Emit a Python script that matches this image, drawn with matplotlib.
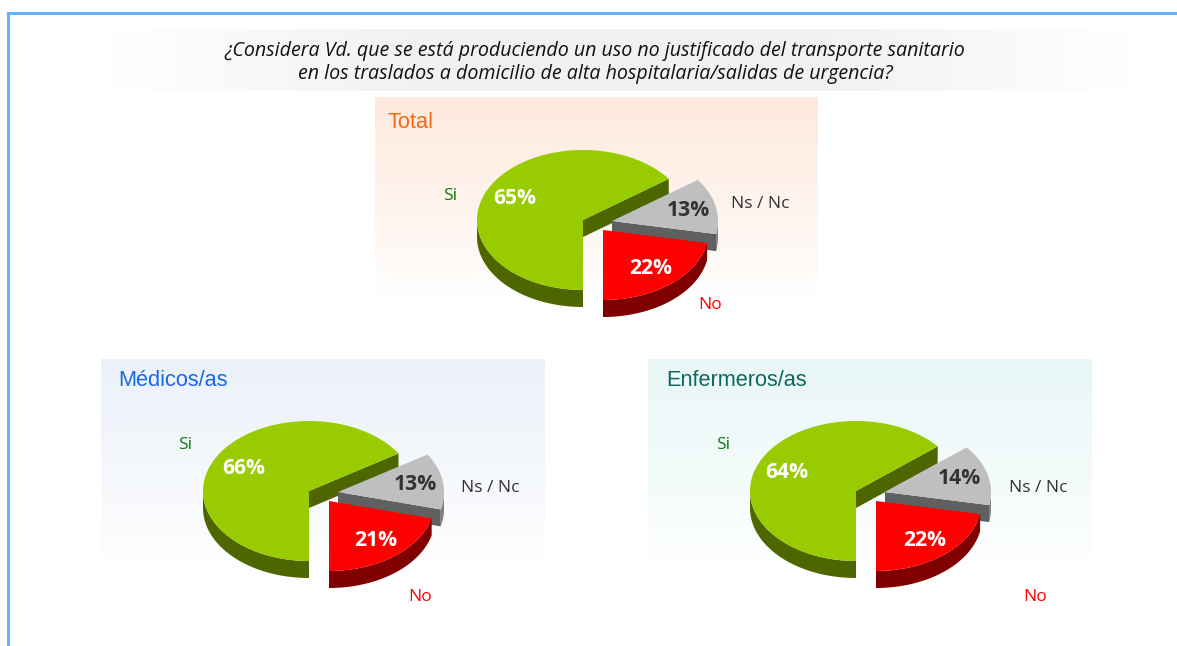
import numpy as np
import matplotlib
matplotlib.use('Agg')
import matplotlib.pyplot as plt
from matplotlib.patches import Polygon

# ---------------------------
# Data
# ---------------------------
slice_labels = ['Si', 'No', 'Ns / Nc']
total_values = [65, 22, 13]
medicos_values = [66, 21, 13]
enfermeros_values = [64, 22, 14]

panel_titles = ['Total', 'Médicos/as', 'Enfermeros/as']
question_lines = [
    '¿Considera Vd. que se está produciendo un uso no justificado del transporte sanitario',
    'en los traslados a domicilio de alta hospitalaria/salidas de urgencia?',
]

# ---------------------------
# Styles and layout (pixels)
# ---------------------------
RX, RY, DEPTH = 106, 70, 17
TOP_COLORS = ['#99CC00', '#FF0000', '#BFBFBF']
SIDE_COLORS = ['#4D6600', '#800000', '#808080']
CUT_COLORS = ['#4D6600', '#800000', '#606060']
RED_OFFSET = (20, 10)
GREY_OFFSET = (29, 1)

LABEL_FONT = ['Open Sans', 'DejaVu Sans']
TITLE_FONT = ['Liberation Sans', 'DejaVu Sans']


def ellipse_xy(cx, cy, angle):
    a = np.radians(angle)
    return cx + RX * np.cos(a), cy - RY * np.sin(a)


def draw_slice(ax, cx, cy, start, end, top, side, cut, cut_start=False, z=3):
    angles = np.linspace(start, end, 200)
    xs, ys = ellipse_xy(cx, cy, angles)

    # outer rim, only where it faces the viewer
    lower = np.sin(np.radians(angles)) <= 0.001
    if lower.any():
        rim = list(zip(xs[lower], ys[lower])) + list(zip(xs[lower][::-1], ys[lower][::-1] + DEPTH))
        ax.add_patch(Polygon(rim, closed=True, fc=side, ec='none', zorder=z))

    # cut face on the start edge of the slice
    if cut_start:
        ex, ey = ellipse_xy(cx, cy, start)
        face = [(cx, cy), (ex, ey), (ex, ey + DEPTH), (cx, cy + DEPTH)]
        ax.add_patch(Polygon(face, closed=True, fc=cut, ec='none', zorder=z + 0.1))

    pts = [(cx, cy)] + list(zip(xs, ys))
    ax.add_patch(Polygon(pts, closed=True, fc=top, ec='none', zorder=z + 0.2))


def draw_pie(ax, cx, cy, values):
    si, no, ns = values
    si_start = 270 - si * 3.6
    no_end = 270 + no * 3.6

    draw_slice(ax, cx, cy, si_start, 270, TOP_COLORS[0], SIDE_COLORS[0], CUT_COLORS[0], cut_start=True, z=3)
    draw_slice(ax, cx + GREY_OFFSET[0], cy + GREY_OFFSET[1], no_end - 360, no_end - 360 + ns * 3.6,
               TOP_COLORS[2], SIDE_COLORS[2], CUT_COLORS[2], cut_start=True, z=4)
    draw_slice(ax, cx + RED_OFFSET[0], cy + RED_OFFSET[1], 270, no_end,
               TOP_COLORS[1], SIDE_COLORS[1], CUT_COLORS[1], z=5)


def gradient(ax, x0, x1, y0, y1, color, horizontal=False):
    # fades a colour out to white
    rgb = np.array(matplotlib.colors.to_rgb(color))
    if horizontal:
        t = np.linspace(0, 1, 256)
        t = np.clip(np.minimum(t, t[::-1]) * 3.2, 0, 1)
        img = np.ones((1, 256, 3)) - (1 - rgb) * t[None, :, None]
    else:
        t = np.linspace(1, 0, 256) ** 0.8
        img = np.ones((256, 1, 3)) - (1 - rgb) * t[:, None, None]
    ax.imshow(img, extent=(x0, x1, y1, y0), aspect='auto', zorder=1, interpolation='bilinear')


fig = plt.figure(figsize=(11.77, 6.46), dpi=100)
ax = fig.add_axes([0, 0, 1, 1])

# question band
gradient(ax, 110, 1130, 29, 91, '#F1F1F1', horizontal=True)
for line, y in zip(question_lines, [51, 74]):
    ax.text(595, y, line, ha='center', va='center', fontsize=14.15, style='italic',
            family=['Open Sans', 'DejaVu Sans'], color='#111111', zorder=6)

# panels: background box, title colour, pie centre, label positions
panels = [
    dict(values=total_values, title=panel_titles[0], box=(375, 818, 97, 295), bg='#FEEADD', tcol='#F26A1B',
         tpos=(387, 123), c=(583, 220), si=(450, 196), no=(710, 305), ns=(760, 204),
         p_si=(515, 199), p_no=(651, 269), p_ns=(688, 211)),
    dict(values=medicos_values, title=panel_titles[1], box=(101, 545, 359, 565), bg='#ECF1F9', tcol='#1569E8',
         tpos=(118, 381), c=(309, 491), si=(185, 445), no=(420, 597), ns=(490, 488),
         p_si=(244, 468), p_no=(376, 541), p_ns=(415, 485)),
    dict(values=enfermeros_values, title=panel_titles[2], box=(648, 1092, 359, 565), bg='#E9F7F7', tcol='#10665F',
         tpos=(666, 381), c=(856, 491), si=(723, 445), no=(1035, 597), ns=(1038, 488),
         p_si=(787, 473), p_no=(925, 541), p_ns=(959, 478)),
]

for p in panels:
    x0, x1, y0, y1 = p['box']
    gradient(ax, x0, x1, y0, y1, p['bg'])
    ax.text(p['tpos'][0], p['tpos'][1], p['title'], ha='left', va='center', fontsize=15.7,
            family=TITLE_FONT, color=p['tcol'], zorder=6)
    draw_pie(ax, p['c'][0], p['c'][1], p['values'])

    si, no, ns = p['values']
    ax.text(*p['p_si'], f'{si}%', ha='center', va='center', fontsize=15.2, weight='bold',
            family=LABEL_FONT, color='white', zorder=7)
    ax.text(*p['p_no'], f'{no}%', ha='center', va='center', fontsize=15.2, weight='bold',
            family=LABEL_FONT, color='white', zorder=7)
    ax.text(*p['p_ns'], f'{ns}%', ha='center', va='center', fontsize=15.2, weight='bold',
            family=LABEL_FONT, color='#333333', zorder=7)
    ax.text(*p['si'], slice_labels[0], ha='center', va='center', fontsize=12.5,
            family=LABEL_FONT, color='#0B7A0B', zorder=7)
    ax.text(*p['no'], slice_labels[1], ha='center', va='center', fontsize=12.5,
            family=LABEL_FONT, color='#FF0000', zorder=7)
    ax.text(*p['ns'], slice_labels[2], ha='center', va='center', fontsize=12.5,
            family=LABEL_FONT, color='#333333', zorder=7)

# blue frame along the top and left
ax.plot([8, 8, 1177], [646, 13, 13], color='#66B2FF', lw=2.2, solid_joinstyle='miter', zorder=8)

ax.set_xlim(0, 1177)
ax.set_ylim(646, 0)
ax.axis('off')

fig.savefig('out.png', dpi=100)
